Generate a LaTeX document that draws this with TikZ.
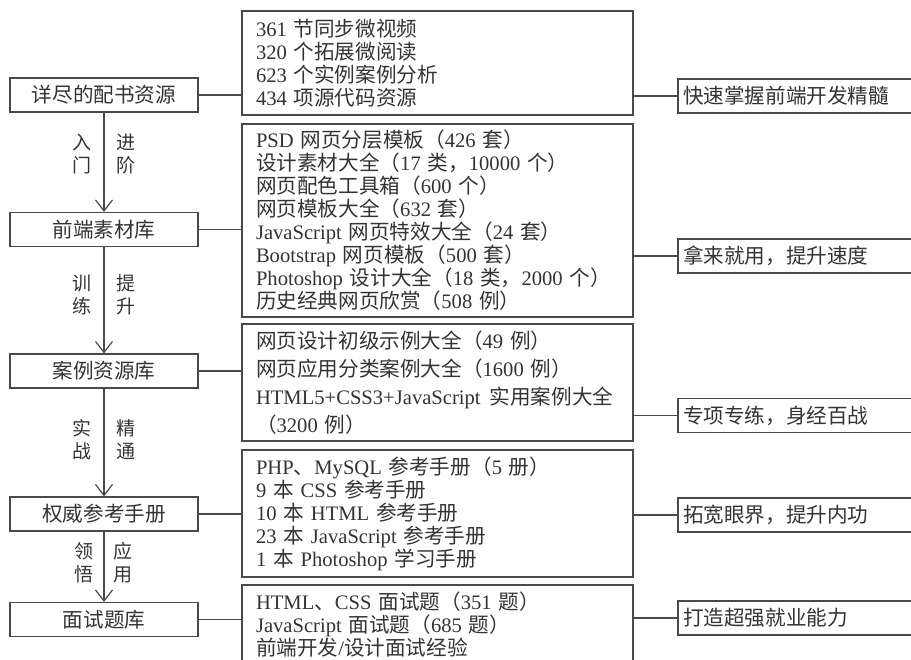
\documentclass[tikz,border=0pt]{standalone}
\usepackage{fontspec}
\setmainfont{Liberation Serif}
\newfontfamily\cjk{Noto Sans CJK SC}
\usetikzlibrary{arrows.meta}

% switch to the CJK font for Chinese characters and fullwidth punctuation
\XeTeXinterchartokenstate=1
\newXeTeXintercharclass\cjkclass
\newcount\cjkchar
\cjkchar="3000
\loop\ifnum\cjkchar<"A000
	\XeTeXcharclass\cjkchar=\cjkclass
	\advance\cjkchar by 1
\repeat
\cjkchar="FF00
\loop\ifnum\cjkchar<"FFF0
	\XeTeXcharclass\cjkchar=\cjkclass
	\advance\cjkchar by 1
\repeat
\XeTeXinterchartoks 0 \cjkclass = {\begingroup\cjk}
\XeTeXinterchartoks 4095 \cjkclass = {\begingroup\cjk}
\XeTeXinterchartoks \cjkclass 0 = {\endgroup}
\XeTeXinterchartoks \cjkclass 4095 = {\endgroup}

\definecolor{ink}{HTML}{333333}
\definecolor{rule}{HTML}{4A4A4A}

\begin{document}
\begin{tikzpicture}[x=1pt, y=-1pt,
		every node/.style={text=ink, font=\fontsize{20.6}{23}\selectfont},
		leftbox/.style={draw=rule, line width=1.2pt, minimum width=188, minimum height=34, inner sep=0},
		midbox/.style={draw=rule, line width=1.2pt, text width=363pt, inner xsep=14pt, inner ysep=0, align=left},
		rightbox/.style={draw=rule, line width=1.2pt, text width=242pt, inner xsep=5pt, minimum height=34, align=left},
		flow/.style={draw=rule, line width=1.2pt, -{Straight Barb[length=11pt, width=17pt, line width=1.2pt]}},
		tag/.style={inner sep=0, align=center, font=\fontsize{19}{23}\selectfont}]

	\useasboundingbox (0,0) rectangle (911,660);
	\clip (0,0) rectangle (911,660);

	% stages on the left
	\node[leftbox] (detail) at (104,95) {详尽的配书资源};
	\node[leftbox] (material) at (104,229.5) {前端素材库};
	\node[leftbox] (cases) at (104,371) {案例资源库};
	\node[leftbox] (manual) at (104,514) {权威参考手册};
	\node[leftbox] (interview) at (104,619.5) {面试题库};

	% contents in the middle
	\node[midbox, minimum height=104] (detailList) at (437.5,63) {361 节同步微视频\\320 个拓展微阅读\\623 个实例案例分析\\434 项源代码资源};
	\node[midbox, minimum height=193] (materialList) at (437.5,220.5) {PSD 网页分层模板（426 套）\\设计素材大全（17 类，10000 个）\\网页配色工具箱（600 个）\\网页模板大全（632 套）\\JavaScript 网页特效大全（24 套）\\Bootstrap 网页模板（500 套）\\Photoshop 设计大全（18 类，2000 个）\\历史经典网页欣赏（508 例）};
	\node[midbox, minimum height=117, font=\fontsize{20.6}{28}\selectfont] (casesList) at (437.5,382.5) {网页设计初级示例大全（49 例）\\网页应用分类案例大全（1600 例）\\\mbox{HTML5+CSS3+JavaScript\hspace{9pt}实用案例大全}\\（3200 例）};
	\node[midbox, minimum height=127] (manualList) at (437.5,513.5) {PHP、MySQL 参考手册（5 册）\\9 本 CSS 参考手册\\10 本 HTML 参考手册\\23 本 JavaScript 参考手册\\1 本 Photoshop 学习手册};
	\node[midbox, minimum height=79] (interviewList) at (437.5,624.5) {HTML、CSS 面试题（351 题）\\JavaScript 面试题（685 题）\\前端开发/设计面试经验};

	% gains on the right
	\node[rightbox] (gainA) at (804,96) {快速掌握前端开发精髓};
	\node[rightbox] (gainB) at (804,256) {拿来就用，提升速度};
	\node[rightbox] (gainC) at (804,415.5) {专项专练，身经百战};
	\node[rightbox] (gainD) at (804,515) {拓宽眼界，提升内功};
	\node[rightbox] (gainE) at (804,618) {打造超强就业能力};

	\begin{scope}[draw=rule, line width=1.2pt]
		\draw (detail.east) -- (detail.east -| detailList.west);
		\draw (material.east) -- (material.east -| materialList.west);
		\draw (cases.east) -- (cases.east -| casesList.west);
		\draw (manual.east) -- (manual.east -| manualList.west);
		\draw (interview.east) -- (interview.east -| interviewList.west);

		\draw (gainA.west -| detailList.east) -- (gainA.west);
		\draw (gainB.west -| materialList.east) -- (gainB.west);
		\draw (gainC.west -| casesList.east) -- (gainC.west);
		\draw (gainD.west -| manualList.east) -- (gainD.west);
		\draw (gainE.west -| interviewList.east) -- (gainE.west);
	\end{scope}

	% arrows between stages
	\draw[flow] (detail) -- (material)
		node[tag, pos=.42, left=12pt] (tagA1) {入\\门}
		node[tag, pos=.42, right=12pt] (tagA2) {进\\阶};
	\draw[flow] (material) -- (cases)
		node[tag, pos=.45, left=12pt] (tagB1) {训\\练}
		node[tag, pos=.45, right=12pt] (tagB2) {提\\升};
	\draw[flow] (cases) -- (manual)
		node[tag, pos=.47, left=12pt] (tagC1) {实\\战}
		node[tag, pos=.47, right=12pt] (tagC2) {精\\通};
	\draw[flow] (manual) -- (interview)
		node[tag, pos=.44, left=10pt] (tagD1) {领\\悟}
		node[tag, pos=.44, right=9pt] (tagD2) {应\\用};
\end{tikzpicture}
\end{document}
